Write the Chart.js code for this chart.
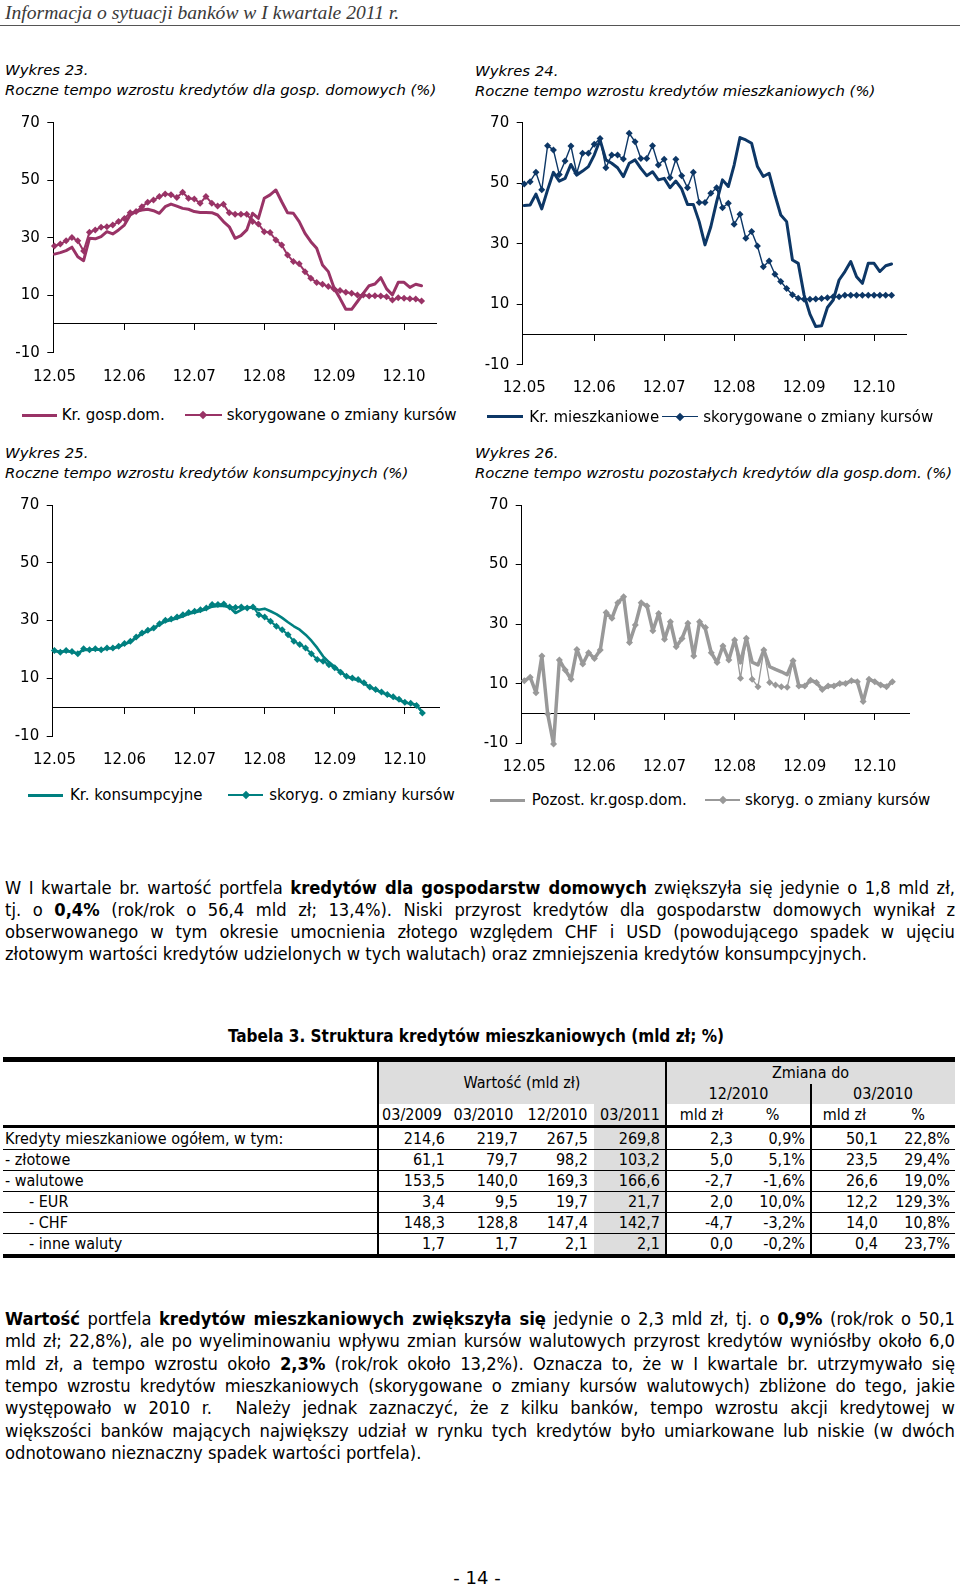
<!DOCTYPE html>
<html lang="pl">
<head>
<meta charset="utf-8">
<title>Informacja o sytuacji banków - wykresy 23-26</title>
<script src="https://cdn.jsdelivr.net/npm/chart.js"></script>
<style>
  html, body { margin: 0; padding: 0; background: #fff; }
  body { position: relative; width: 960px; height: 1588px; overflow: hidden; color: #000;
         font-family: "DejaVu Sans Condensed", "DejaVu Sans", sans-serif; }
  .a { position: absolute; white-space: nowrap; }
  .hdr { left: 5px; top: 1px; font: italic 19.6px "Liberation Serif", serif; color: #3a3a3a; line-height: 24px; }
  .rule { left: 0; top: 25px; width: 960px; height: 1px; background: #555; }
  .ttl { font: italic 14.85px "DejaVu Sans", sans-serif; line-height: 20px; }
  canvas { position: absolute; }
  .ln { position: absolute; left: 5px; width: 950px; font-size: 18.2px; line-height: 22px;
        text-align: justify; text-align-last: justify; white-space: normal; }
  .ln.last { text-align-last: left; }
  .tc { position: absolute; font-size: 16px; white-space: nowrap; }
</style>
</head>
<body>

<div class="a hdr">Informacja o sytuacji banków w I kwartale 2011 r.</div>
<div class="a rule"></div>

<div class="a ttl" style="left:5px;top:60px">Wykres 23.</div>
<div class="a ttl" style="left:5px;top:80px">Roczne tempo wzrostu kredytów dla gosp. domowych (%)</div>
<div class="a ttl" style="left:475px;top:61px">Wykres 24.</div>
<div class="a ttl" style="left:475px;top:81px">Roczne tempo wzrostu kredytów mieszkaniowych (%)</div>
<div class="a ttl" style="left:5px;top:443px">Wykres 25.</div>
<div class="a ttl" style="left:5px;top:463px">Roczne tempo wzrostu kredytów konsumpcyjnych (%)</div>
<div class="a ttl" style="left:475px;top:443px">Wykres 26.</div>
<div class="a ttl" style="left:475px;top:463px">Roczne tempo wzrostu pozostałych kredytów dla gosp.dom. (%)</div>

<canvas id="c23" width="460" height="300" style="left:0;top:100px"></canvas>
<canvas id="c24" width="470" height="310" style="left:470px;top:100px"></canvas>
<canvas id="c25" width="460" height="300" style="left:0;top:480px"></canvas>
<canvas id="c26" width="470" height="310" style="left:470px;top:480px"></canvas>

<div class="ln" style="top:877px">W I kwartale br. wartość portfela <b>kredytów dla gospodarstw domowych</b> zwiększyła się jedynie o 1,8 mld zł,</div>
<div class="ln" style="top:899px">tj. o <b>0,4%</b> (rok/rok o 56,4 mld zł; 13,4%). Niski przyrost kredytów dla gospodarstw domowych wynikał z</div>
<div class="ln" style="top:921px">obserwowanego w tym okresie umocnienia złotego względem CHF i USD (powodującego spadek w ujęciu</div>
<div class="ln last" style="top:943px">złotowym wartości kredytów udzielonych w tych walutach) oraz zmniejszenia kredytów konsumpcyjnych.</div>

<div class="a" style="left:0;width:952px;top:1025px;text-align:center;font-weight:bold;font-size:17px;line-height:22px">Tabela 3. Struktura kredytów mieszkaniowych (mld zł; %)</div>
<div id="tbl"></div>

<div class="ln" style="top:1308px"><b>Wartość</b> portfela <b>kredytów mieszkaniowych zwiększyła się</b> jedynie o 2,3 mld zł, tj. o <b>0,9%</b> (rok/rok o 50,1</div>
<div class="ln" style="top:1330px">mld zł; 22,8%), ale po wyeliminowaniu wpływu zmian kursów walutowych przyrost kredytów wyniósłby około 6,0</div>
<div class="ln" style="top:1353px">mld zł, a tempo wzrostu około <b>2,3%</b> (rok/rok około 13,2%). Oznacza to, że w I kwartale br. utrzymywało się</div>
<div class="ln" style="top:1375px">tempo wzrostu kredytów mieszkaniowych (skorygowane o zmiany kursów walutowych) zbliżone do tego, jakie</div>
<div class="ln" style="top:1397px">występowało w 2010 r.&nbsp; Należy jednak zaznaczyć, że z kilku banków, tempo wzrostu akcji kredytowej w</div>
<div class="ln" style="top:1420px">większości banków mających największy udział w rynku tych kredytów było umiarkowane lub niskie (w dwóch</div>
<div class="ln last" style="top:1442px">odnotowano nieznaczny spadek wartości portfela).</div>

<div class="a" style="left:0;width:954px;top:1567px;text-align:center;font:18px 'DejaVu Sans',sans-serif;line-height:22px">- 14 -</div>

<script>
// miesiace od 12.05 do 03.11
const months = [
  '12.05',
  '01.06','02.06','03.06','04.06','05.06','06.06','07.06','08.06','09.06','10.06','11.06','12.06',
  '01.07','02.07','03.07','04.07','05.07','06.07','07.07','08.07','09.07','10.07','11.07','12.07',
  '01.08','02.08','03.08','04.08','05.08','06.08','07.08','08.08','09.08','10.08','11.08','12.08',
  '01.09','02.09','03.09','04.09','05.09','06.09','07.09','08.09','09.09','10.09','11.09','12.09',
  '01.10','02.10','03.10','04.10','05.10','06.10','07.10','08.10','09.10','10.10','11.10','12.10',
  '01.11','02.11','03.11'
];
const xTickLabels = ['12.05', '12.06', '12.07', '12.08', '12.09', '12.10'];
const yTicks = [-10, 10, 30, 50, 70];

// Wykres 23 - kredyty dla gosp. domowych
const gospDom = [24.3,24.8,25.5,26.7,23.4,22.0,29.8,29.6,30.4,32.1,31.3,32.7,
  34.4,37.9,39.1,39.6,39.9,39.4,38.5,40.8,41.7,41.0,40.2,39.9,
  39.1,38.8,38.8,38.7,37.9,35.6,33.8,29.8,30.7,32.7,38.5,36.7,
  43.7,44.9,46.6,42.5,38.7,38.5,35.6,31.5,28.6,26.3,20.5,18.2,
  12.4,8.9,5.1,5.1,7.8,10.6,13.3,13.9,16.1,12.2,10.1,14.5,
  14.5,12.7,13.8,13.3];
const gospDomAdj = [27.1,27.8,28.9,30.1,28.9,25.4,31.9,32.7,33.6,33.8,34.4,35.6,
  36.7,38.7,39.1,40.8,42.3,43.1,44.3,45.2,44.9,44.0,45.8,43.7,
  43.5,42.0,44.3,42.0,41.0,41.6,38.7,38.2,38.2,38.2,35.6,34.8,
  32.1,31.8,29.2,27.5,24.0,21.7,20.9,18.2,15.9,14.4,13.8,13.0,
  12.2,11.6,11.0,10.7,10.1,10.1,9.7,9.8,9.7,9.5,8.3,9.1,
  8.9,8.8,8.7,8.0];

// Wykres 24 - kredyty mieszkaniowe
const mieszk = [42.6,42.8,46.4,41.5,47.8,53.6,50.7,51.6,56.2,52.7,54.0,55.5,
  59.3,64.3,57.7,56.6,55.1,52.2,56.6,57.7,54.9,52.5,53.8,51.1,
  51.6,48.5,50.7,48.1,43.0,43.0,37.3,29.6,35.6,43.9,51.1,48.9,
  56.0,65.1,64.3,63.2,55.5,52.2,53.3,46.1,39.5,37.3,24.6,23.5,
  13.0,6.7,2.6,2.9,8.9,11.4,18.0,20.8,24.1,19.1,16.9,23.5,
  23.5,20.8,22.7,23.3];
const mieszkAdj = [49.7,50.5,53.6,47.8,62.4,61.0,52.9,57.3,62.3,53.3,59.9,59.9,
  62.9,64.8,55.1,59.3,59.3,58.0,66.5,63.7,58.2,58.2,62.4,56.0,
  57.9,51.8,57.9,52.5,48.5,53.6,43.6,43.6,46.7,48.5,41.9,43.4,
  36.4,39.7,31.8,34.0,29.2,22.4,24.3,19.9,17.5,15.2,13.1,12.0,
  11.6,11.6,11.7,11.9,12.1,12.5,12.5,13.0,13.0,13.0,13.0,13.0,
  13.0,13.0,13.0,13.0];

// Wykres 25 - kredyty konsumpcyjne
const kons = [19.4,19.2,19.4,19.1,18.6,19.8,19.8,20.0,19.8,20.3,20.3,20.9,
  21.8,22.6,24.0,25.4,26.4,27.2,28.6,29.7,30.2,30.8,31.5,32.3,
  32.8,33.3,34.0,34.8,35.0,35.0,34.6,32.6,33.7,34.7,34.3,33.7,
  34.1,33.2,32.2,30.9,29.4,28.0,26.8,25.1,23.0,20.5,17.6,15.6,
  13.9,12.2,10.7,9.8,9.3,8.2,6.9,6.0,5.1,4.3,3.4,2.5,
  1.6,1.2,0.8,-1.8];
const konsAdj = [19.6,19.0,19.6,19.3,18.5,20.2,19.9,20.2,19.9,20.5,20.5,21.1,
  22.0,22.8,24.3,25.7,26.6,27.4,28.9,30.1,30.5,31.2,32.0,32.8,
  33.2,33.7,34.3,35.5,35.5,35.7,34.7,34.5,34.7,34.3,34.7,32.0,
  31.2,29.7,28.0,26.8,25.1,22.8,21.7,20.5,18.5,16.5,15.9,14.7,
  13.6,12.1,10.7,10.1,9.6,8.4,7.0,6.1,5.2,4.4,3.6,2.7,
  1.7,1.3,0.6,-2.0];

// Wykres 26 - pozostale kredyty dla gosp. dom.
const pozost = [11.0,12.2,7.0,19.3,-0.2,-10.2,18.0,14.6,11.5,21.5,16.6,20.4,
  18.5,21.3,33.9,32.0,37.2,39.2,23.8,29.7,37.2,36.1,27.8,33.6,
  24.9,30.8,22.4,25.2,30.3,19.3,30.8,28.3,20.4,17.1,22.7,18.0,
  24.7,17.0,25.3,17.2,16.3,21.3,15.7,14.8,14.0,13.0,17.7,9.2,
  9.2,11.2,10.4,8.1,9.2,9.2,10.1,10.1,11.0,10.7,4.0,11.5,
  10.7,9.6,9.0,10.7];
const pozostAdj = [11.0,12.2,7.0,19.3,-0.2,-10.2,18.0,14.6,11.5,21.5,16.6,20.4,
  18.5,21.3,33.9,32.0,37.2,39.2,23.8,29.7,37.2,36.1,27.8,33.6,
  24.9,30.8,22.4,25.2,30.3,19.3,30.8,28.9,20.4,17.1,22.7,18.0,
  24.7,11.8,25.3,11.5,9.0,21.3,10.4,9.6,9.0,8.8,17.7,9.2,
  9.2,11.2,10.4,8.1,9.2,9.2,10.1,10.1,11.0,10.7,4.0,11.5,
  10.7,9.6,9.0,10.7];

const names23 = ['Kr. gosp.dom.', 'skorygowane o zmiany kursów'];
const names24 = ['Kr. mieszkaniowe', 'skorygowane o zmiany kursów'];
const names25 = ['Kr. konsumpcyjne', 'skoryg. o zmiany kursów'];
const names26 = ['Pozost. kr.gosp.dom.', 'skoryg. o zmiany kursów'];

const FONT = '"DejaVu Sans", sans-serif';

function makeChart(id, box, solid, adj) {
  const pts = arr => arr.map((v, i) => ({ x: i, y: v }));
  const markTicks = s => { s.ticks = xTickLabels.slice(1).map((_, i) => ({ value: (i + 1) * 12 })); };
  const labelTicks = s => { s.ticks = xTickLabels.map((_, i) => ({ value: i * 12 })); };
  return new Chart(document.getElementById(id), {
    type: 'line',
    data: {
      labels: months,
      datasets: [
        { label: adj.name, data: pts(adj.data), borderColor: adj.color, backgroundColor: adj.color,
          borderWidth: adj.width, pointStyle: 'rectRot', pointRadius: adj.r, pointBorderWidth: 0,
          pointBackgroundColor: adj.color, tension: 0, clip: false, borderJoinStyle: 'round' },
        { label: solid.name, data: pts(solid.data), borderColor: solid.color, borderWidth: solid.width,
          pointRadius: 0, tension: 0, clip: false, borderJoinStyle: 'round', borderCapStyle: 'round' }
      ]
    },
    options: {
      responsive: false, animation: false, events: [],
      layout: { padding: { left: 0, top: box.top, right: box.right, bottom: 0 } },
      plugins: { legend: { display: false }, tooltip: { enabled: false } },
      scales: {
        x: {
          type: 'linear', min: box.min, max: box.max, position: { y: 0 },
          afterBuildTicks: markTicks,
          ticks: { display: false },
          grid: { drawOnChartArea: false, drawTicks: true, tickLength: 6, color: '#000' },
          border: { display: true, color: '#000', width: 1 }
        },
        x2: {
          type: 'linear', axis: 'x', position: 'bottom', min: box.min, max: box.max,
          afterBuildTicks: labelTicks,
          afterFit: s => { s.height = box.x2H; },
          ticks: { autoSkip: false, maxRotation: 0, padding: box.pad, color: '#000',
                   font: { family: FONT, size: 15 },
                   callback: v => xTickLabels[Math.round(v / 12)] },
          grid: { display: false, drawTicks: false },
          border: { display: false }
        },
        y: {
          min: -10, max: 70,
          afterBuildTicks: s => { s.ticks = yTicks.map(v => ({ value: v })); },
          afterFit: s => { s.width = box.axisW; },
          ticks: { padding: 7.5, color: '#000', font: { family: FONT, size: 15 } },
          grid: { drawOnChartArea: false, tickLength: 6, color: '#000' },
          border: { color: '#000', width: 1 }
        }
      }
    }
  });
}

const C23 = '#993366', C24 = '#0d3766', C25 = '#008080', C26 = '#999999';

makeChart('c23', { axisW: 53.3, top: 22.7, right: 23.3, x2H: 47.3, pad: 15, min: -0.2, max: 65.6 },
  { name: names23[0], data: gospDom, color: C23, width: 3 },
  { name: names23[1], data: gospDomAdj, color: C23, width: 2, r: 3.5 });
makeChart('c24', { axisW: 52.7, top: 22.7, right: 33.3, x2H: 45.3, pad: 14.6, min: -0.27, max: 65.6 },
  { name: names24[0], data: mieszk, color: C24, width: 3 },
  { name: names24[1], data: mieszkAdj, color: C24, width: 1.4, r: 3.5 });
makeChart('c25', { axisW: 52.7, top: 25, right: 20.7, x2H: 44, pad: 15, min: -0.3, max: 65.9 },
  { name: names25[0], data: kons, color: C25, width: 2.6 },
  { name: names25[1], data: konsAdj, color: C25, width: 2, r: 3.5 });
makeChart('c26', { axisW: 51.7, top: 25, right: 30.7, x2H: 46.7, pad: 15, min: -0.45, max: 65.9 },
  { name: names26[0], data: pozost, color: C26, width: 3.5 },
  { name: names26[1], data: pozostAdj, color: C26, width: 1.3, r: 3.5 });

// legendy pod wykresami
function legend(y, color, names, pos) {
  const add = (html, style) => {
    const d = document.createElement('div');
    d.className = 'a';
    d.style.cssText = style;
    d.innerHTML = html;
    document.body.appendChild(d);
  };
  // linia ciagla
  add('', `left:${pos[0]}px;top:${y - 1.5}px;width:${pos[1] - pos[0]}px;height:3px;background:${color}`);
  add(names[0], `left:${pos[2]}px;top:${y - 10}px;font:15px ${FONT};line-height:20px`);
  // linia z rombem
  add('', `left:${pos[3]}px;top:${y - 0.75}px;width:${pos[4] - pos[3]}px;height:1.5px;background:${color}`);
  const cx = (pos[3] + pos[4]) / 2;
  add('', `left:${cx - 3}px;top:${y - 3}px;width:6px;height:6px;background:${color};transform:rotate(45deg)`);
  add(names[1], `left:${pos[5]}px;top:${y - 10}px;font:15px ${FONT};line-height:20px`);
}
legend(415, C23, names23, [22, 57, 61.7, 185, 221.7, 226.7]);
legend(416.7, C24, names24, [486.7, 523.3, 529.3, 661.7, 698.3, 703.3]);
legend(795, C25, names25, [28.3, 63.3, 70, 228.3, 263.3, 269.3]);
legend(800, C26, names26, [490, 525, 531.7, 705, 740, 745]);

// Tabela 3
const tblCols = ['03/2009', '03/2010', '12/2010', '03/2011', 'mld zł', '%', 'mld zł', '%'];
const tblRows = [
  ['Kredyty mieszkaniowe ogółem, w tym:', '214,6', '219,7', '267,5', '269,8', '2,3', '0,9%', '50,1', '22,8%'],
  ['- złotowe', '61,1', '79,7', '98,2', '103,2', '5,0', '5,1%', '23,5', '29,4%'],
  ['- walutowe', '153,5', '140,0', '169,3', '166,6', '-2,7', '-1,6%', '26,6', '19,0%'],
  ['- EUR', '3,4', '9,5', '19,7', '21,7', '2,0', '10,0%', '12,2', '129,3%'],
  ['- CHF', '148,3', '128,8', '147,4', '142,7', '-4,7', '-3,2%', '14,0', '10,8%'],
  ['- inne waluty', '1,7', '1,7', '2,1', '2,1', '0,0', '-0,2%', '0,4', '23,7%']
];
const tblIndent = [0, 0, 0, 1, 1, 1];

(function buildTable() {
  const root = document.getElementById('tbl');
  const colX = [3, 378, 446, 521, 594, 666, 737, 808, 881, 955];
  const numRight = [445, 518, 588, 660, 733, 805, 878, 950];
  const rect = (x, y, w, h, bg) => {
    const d = document.createElement('div');
    d.className = 'a';
    d.style.cssText = `left:${x}px;top:${y}px;width:${w}px;height:${h}px;background:${bg}`;
    root.appendChild(d);
  };
  const text = (x, y, w, h, t, align) => {
    const d = document.createElement('div');
    d.className = 'tc';
    d.style.cssText = `left:${x}px;top:${y}px;width:${w}px;height:${h}px;line-height:${h}px;text-align:${align}`;
    d.textContent = t;
    root.appendChild(d);
  };
  const grey = '#dddddd';
  const rowTop = 1128, rowH = 21.06;
  // tla
  rect(378, 1062, 577, 42, grey);
  rect(594, 1104, 72, 150, grey);
  // naglowek
  text(378, 1062, 288, 42, 'Wartość (mld zł)', 'center');
  text(666, 1062, 289, 22, 'Zmiana do', 'center');
  text(666, 1084, 145, 20, '12/2010', 'center');
  text(811, 1084, 144, 20, '03/2010', 'center');
  tblCols.forEach((c, i) => text(colX[i + 1], 1104, colX[i + 2] - colX[i + 1], 21, c, 'center'));
  // wiersze
  tblRows.forEach((row, r) => {
    const y = rowTop + r * rowH;
    text(5 + tblIndent[r] * 24, y, 360, rowH, row[0], 'left');
    row.slice(1).forEach((v, i) => text(colX[i + 1], y, numRight[i] - colX[i + 1], rowH, v, 'right'));
    if (r < tblRows.length - 1) rect(3, y + rowH - 0.5, 952, 1, '#000');
  });
  // linie
  rect(3, 1057, 952, 5, '#000');
  rect(3, 1125, 952, 3, '#000');
  rect(3, 1254, 952, 4, '#000');
  rect(377, 1057, 2, 201, '#000');
  rect(665, 1057, 2, 201, '#000');
  rect(810, 1084, 2, 174, '#000');
})();
</script>
</body>
</html>
